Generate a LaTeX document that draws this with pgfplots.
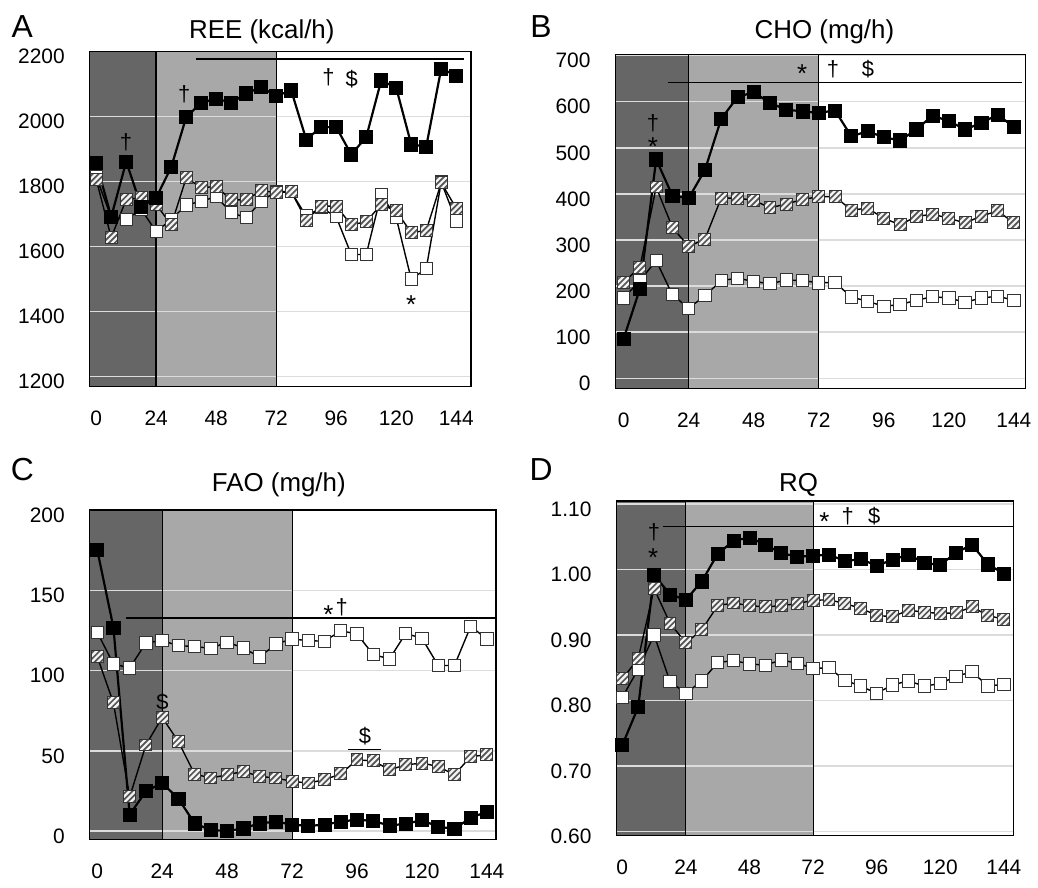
\documentclass[border=0pt]{standalone}
\usepackage{fontspec}
\setmainfont{Liberation Sans}
\usepackage{pgfplots}
\pgfplotsset{compat=1.18}
\usepackage{pgfplotstable}

\definecolor{shdark}{HTML}{666666}
\definecolor{shmid}{HTML}{A8A8A8}
\definecolor{gridc}{HTML}{DCDCDC}
\definecolor{hatchbg}{HTML}{F4F4F4}
\definecolor{hatchfg}{HTML}{555555}

\pgfdeclareplotmark{hatchsq}{%
  \begin{pgfscope}%
  \pgfpathrectangle{\pgfpoint{-\pgfplotmarksize}{-\pgfplotmarksize}}{\pgfpoint{2\pgfplotmarksize}{2\pgfplotmarksize}}%
  \pgfsetfillcolor{hatchbg}%
  \pgfusepath{fill}%
  \end{pgfscope}%
  \begin{pgfscope}%
  \pgfpathrectangle{\pgfpoint{-\pgfplotmarksize}{-\pgfplotmarksize}}{\pgfpoint{2\pgfplotmarksize}{2\pgfplotmarksize}}%
  \pgfusepath{clip}%
  \pgfsetstrokecolor{hatchfg}%
  \pgfsetlinewidth{0.85pt}%
  \pgfpathmoveto{\pgfpoint{-2\pgfplotmarksize}{-3.5\pgfplotmarksize}}\pgfpathlineto{\pgfpoint{2\pgfplotmarksize}{0.5\pgfplotmarksize}}%
  \pgfpathmoveto{\pgfpoint{-2\pgfplotmarksize}{-2.5\pgfplotmarksize}}\pgfpathlineto{\pgfpoint{2\pgfplotmarksize}{1.5\pgfplotmarksize}}%
  \pgfpathmoveto{\pgfpoint{-2\pgfplotmarksize}{-1.5\pgfplotmarksize}}\pgfpathlineto{\pgfpoint{2\pgfplotmarksize}{2.5\pgfplotmarksize}}%
  \pgfpathmoveto{\pgfpoint{-2\pgfplotmarksize}{-0.5\pgfplotmarksize}}\pgfpathlineto{\pgfpoint{2\pgfplotmarksize}{3.5\pgfplotmarksize}}%
  \pgfusepath{stroke}%
  \end{pgfscope}%
  \pgfpathrectangle{\pgfpoint{-\pgfplotmarksize}{-\pgfplotmarksize}}{\pgfpoint{2\pgfplotmarksize}{2\pgfplotmarksize}}%
  \pgfusepath{stroke}%
}

\pgfplotsset{
  panel/.style={
    scale only axis, clip=false, set layers, anchor=south west,
    axis line style={line width=0.7pt},
    ymajorgrids, major grid style={draw=gridc, line width=0.7pt},
    xtick={0,24,...,144},
    major tick length=0pt, tick style={draw=none},
    tick label style={font=\fontsize{10.5}{12}\selectfont},
    xticklabel style={yshift=-9pt},
    yticklabel style={xshift=-9pt,yshift=-2.5pt},
    /pgf/number format/assume math mode=true,
    /pgf/number format/1000 sep={},
    scaled y ticks=false,
  },
  blk/.style={black, line width=1.1pt, mark=square*, mark size=3.3pt,
    mark options={solid, fill=black, draw=black, line width=0.4pt}},
  wht/.style={black, line width=0.7pt, mark=square*, mark size=3.1pt,
    mark options={solid, fill=white, draw=black!80, line width=0.5pt}},
  hch/.style={black, line width=0.7pt, mark=hatchsq, mark size=3pt,
    mark options={solid, draw=black!80, line width=0.5pt}},
}
\tikzset{
  ann/.style={font=\fontsize{11}{13}\selectfont, inner sep=0pt},
  ast/.style={font=\fontsize{13}{15}\selectfont, inner sep=0pt, yshift=-2pt},
}

\pgfplotstableread{
t blk hch wht
0 1858 1807 1815
6 1692 1628 1690
12 1862 1746 1684
18 1723 1750 1715
24 1751 1730 1646
30 1845 1667 1684
36 1999 1812 1728
42 2043 1782 1740
48 2056 1785 1754
54 2043 1744 1705
60 2072 1744 1689
66 2091 1773 1740
72 2064 1766 1770
78 2081 1769 1769
84 1930 1682 1694
90 1968 1725 1720
96 1968 1725 1692
102 1884 1667 1576
108 1937 1677 1576
114 2112 1730 1761
120 2089 1710 1689
126 1915 1643 1500
132 1908 1650 1532
138 2148 1797 1799
144 2127 1718 1679
}\tabA

\pgfplotstableread{
t blk hch wht
0 86 208 174
6 194 241 212
12 475 415 255
18 396 327 181
24 391 286 152
30 452 302 179
36 563 391 212
42 610 391 217
48 621 386 210
54 597 370 205
60 583 378 213
66 579 388 212
72 576 394 207
78 581 394 208
84 525 365 176
90 536 369 167
96 523 347 156
102 516 333 160
108 540 351 169
114 570 356 177
120 558 347 174
126 540 337 165
132 554 352 174
138 572 363 178
144 545 337 169
}\tabB

\pgfplotstableread{
t blk hch wht
0 175.6 108.9 124.0
6 127.0 80.0 104.3
12 10.3 21.3 101.7
18 24.8 53.7 117.4
24 30.0 70.9 118.8
30 20.2 55.8 115.7
36 4.8 35.5 115.1
42 0.6 33.1 114.0
48 0.0 35.1 117.8
54 1.7 37.2 114.3
60 4.8 34.1 108.5
66 5.8 33.1 116.7
72 4.1 31.0 119.8
78 3.1 30.0 118.8
84 4.1 32.0 118.4
90 5.8 35.7 125.0
96 7.2 44.4 122.9
102 6.2 43.8 110.1
108 3.5 38.2 107.4
114 4.5 41.3 123.3
120 6.8 42.4 120.2
126 2.7 40.3 103.3
132 1.4 35.1 103.3
138 8.3 46.5 127.7
144 12.0 47.5 119.8
}\tabC

\pgfplotstableread{
t blk hch wht
0 0.732 0.833 0.805
6 0.790 0.864 0.848
12 0.992 0.971 0.900
18 0.962 0.918 0.829
24 0.954 0.888 0.811
30 0.982 0.908 0.830
36 1.024 0.945 0.858
42 1.044 0.949 0.861
48 1.049 0.945 0.856
54 1.038 0.943 0.854
60 1.025 0.945 0.862
66 1.020 0.948 0.857
72 1.021 0.953 0.849
78 1.023 0.954 0.850
84 1.013 0.948 0.831
90 1.016 0.941 0.822
96 1.006 0.930 0.811
102 1.015 0.928 0.824
108 1.023 0.938 0.830
114 1.010 0.935 0.822
120 1.007 0.933 0.826
126 1.026 0.934 0.837
132 1.038 0.943 0.844
138 1.008 0.930 0.822
144 0.994 0.924 0.825
}\tabD

\begin{document}
\begin{tikzpicture}
\path (0,0) rectangle (519pt,-445.5pt);

% Titles and panel letters
\node[font=\fontsize{16}{18}\selectfont, inner sep=0pt] at (11.2pt,-13.4pt) {A};
\node[font=\fontsize{16}{18}\selectfont, inner sep=0pt] at (271.7pt,-13.4pt) {B};
\node[font=\fontsize{16}{18}\selectfont, inner sep=0pt] at (11.2pt,-236pt) {C};
\node[font=\fontsize{16}{18}\selectfont, inner sep=0pt] at (271.7pt,-236pt) {D};
\node[font=\fontsize{13}{15}\selectfont, inner sep=0pt] at (131.5pt,-15.8pt) {REE (kcal/h)};
\node[font=\fontsize{13}{15}\selectfont, inner sep=0pt] at (414pt,-15.8pt) {CHO (mg/h)};
\node[font=\fontsize{13}{15}\selectfont, inner sep=0pt] at (140pt,-243.3pt) {FAO (mg/h)};
\node[font=\fontsize{13}{15}\selectfont, inner sep=0pt] at (401pt,-243.3pt) {RQ};

% ---------- A ----------
\begin{axis}[panel, at={(45pt,-194pt)}, width=191.5pt, height=168pt,
  xmin=-2.65, xmax=149.9, ymin=1170, ymax=2200, ytick={1200,1400,...,2200}]
\begin{pgfonlayer}{axis background}
\fill[shdark] (rel axis cs:0,0) rectangle ({axis cs:24,2000} |- {rel axis cs:0,1});
\fill[shmid] ({axis cs:24,2000} |- {rel axis cs:0,0}) rectangle ({axis cs:72,2000} |- {rel axis cs:0,1});
\end{pgfonlayer}
\draw[line width=1.1pt] ({axis cs:24,2000} |- {rel axis cs:0,0}) -- ({axis cs:24,2000} |- {rel axis cs:0,1});
\draw[line width=0.5pt] ({axis cs:72,2000} |- {rel axis cs:0,0}) -- ({axis cs:72,2000} |- {rel axis cs:0,1});
\addplot[wht] table[x=t,y=wht]{\tabA};
\addplot[hch] table[x=t,y=hch]{\tabA};
\addplot[blk] table[x=t,y=blk]{\tabA};
\draw[line width=0.6pt] (axis cs:39.8,2178) -- (axis cs:147.3,2178);
\node[ann] at (axis cs:35.2,2069) {†};
\node[ann] at (axis cs:11.9,1920) {†};
\node[ann] at (axis cs:92.9,2120) {†};
\node[ann] at (axis cs:102.2,2117) {\$};
\node[ast] at (axis cs:126,1433) {*};
\end{axis}

% ---------- B ----------
\begin{axis}[panel, at={(309pt,-195pt)}, width=206pt, height=167.5pt,
  xmin=-3.06, xmax=148.3, ymin=-22, ymax=702, ytick={0,100,...,700}]
\begin{pgfonlayer}{axis background}
\fill[shdark] (rel axis cs:0,0) rectangle ({axis cs:24,0} |- {rel axis cs:0,1});
\fill[shmid] ({axis cs:24,0} |- {rel axis cs:0,0}) rectangle ({axis cs:72,0} |- {rel axis cs:0,1});
\end{pgfonlayer}
\draw[line width=0.6pt] ({axis cs:24,0} |- {rel axis cs:0,0}) -- ({axis cs:24,0} |- {rel axis cs:0,1});
\draw[line width=0.5pt] ({axis cs:72,0} |- {rel axis cs:0,0}) -- ({axis cs:72,0} |- {rel axis cs:0,1});
\addplot[wht] table[x=t,y=wht]{\tabB};
\addplot[hch] table[x=t,y=hch]{\tabB};
\addplot[blk] table[x=t,y=blk]{\tabB};
\draw[line width=0.6pt] (axis cs:16.5,642) -- (axis cs:147,642);
\node[ast] at (axis cs:65.9,669) {*};
\node[ann] at (axis cs:77.2,670) {†};
\node[ann] at (axis cs:90.1,670) {\$};
\node[ann] at (axis cs:10.8,554) {†};
\node[ast] at (axis cs:10.8,511) {*};
\end{axis}

% ---------- C ----------
\begin{axis}[panel, at={(45pt,-421.5pt)}, width=204pt, height=165.5pt,
  xmin=-2.8, xmax=147.3, ymin=-5.2, ymax=200.4, ytick={0,50,...,200}]
\begin{pgfonlayer}{axis background}
\fill[shdark] (rel axis cs:0,0) rectangle ({axis cs:24,0} |- {rel axis cs:0,1});
\fill[shmid] ({axis cs:24,0} |- {rel axis cs:0,0}) rectangle ({axis cs:72,0} |- {rel axis cs:0,1});
\end{pgfonlayer}
\draw[line width=0.5pt] ({axis cs:24,0} |- {rel axis cs:0,0}) -- ({axis cs:24,0} |- {rel axis cs:0,1});
\draw[line width=0.5pt] ({axis cs:72,0} |- {rel axis cs:0,0}) -- ({axis cs:72,0} |- {rel axis cs:0,1});
\addplot[wht] table[x=t,y=wht]{\tabC};
\addplot[hch] table[x=t,y=hch]{\tabC};
\addplot[blk] table[x=t,y=blk]{\tabC};
\draw[line width=0.6pt] (axis cs:10.7,132.9) -- (axis cs:147.3,132.9);
\node[ast] at (axis cs:85.4,137.4) {*};
\node[ann] at (axis cs:90.3,139.5) {†};
\node[ann] at (axis cs:24.1,80.6) {\$};
\node[ann] at (axis cs:98.9,58.9) {\$};
\draw[line width=0.5pt] (axis cs:92.8,51) -- (axis cs:105,51);
\end{axis}

% ---------- D ----------
\begin{axis}[panel, at={(309.5pt,-419.5pt)}, width=199.5pt, height=168pt,
  xmin=-2.25, xmax=147.7, ymin=0.594, ymax=1.105,
  ytick={0.6,0.7,0.8,0.9,1.0,1.1},
  yticklabel style={/pgf/number format/.cd, fixed, fixed zerofill, precision=2}]
\begin{pgfonlayer}{axis background}
\fill[shdark] (rel axis cs:0,0) rectangle ({axis cs:24,1} |- {rel axis cs:0,1});
\fill[shmid] ({axis cs:24,1} |- {rel axis cs:0,0}) rectangle ({axis cs:72,1} |- {rel axis cs:0,1});
\end{pgfonlayer}
\draw[line width=0.5pt] ({axis cs:24,1} |- {rel axis cs:0,0}) -- ({axis cs:24,1} |- {rel axis cs:0,1});
\draw[line width=0.5pt] ({axis cs:72,1} |- {rel axis cs:0,0}) -- ({axis cs:72,1} |- {rel axis cs:0,1});
\addplot[wht] table[x=t,y=wht]{\tabD};
\addplot[hch] table[x=t,y=hch]{\tabD};
\addplot[blk] table[x=t,y=blk]{\tabD};
\draw[line width=0.6pt] (axis cs:15.3,1.0658) -- ({rel axis cs:1,0} |- {axis cs:0,1.0658});
\node[ast] at (axis cs:76.3,1.0795) {*};
\node[ann] at (axis cs:85.1,1.082) {†};
\node[ann] at (axis cs:95.1,1.082) {\$};
\node[ann] at (axis cs:11.9,1.0567) {†};
\node[ast] at (axis cs:11.6,1.0238) {*};
\end{axis}
\end{tikzpicture}
\end{document}
